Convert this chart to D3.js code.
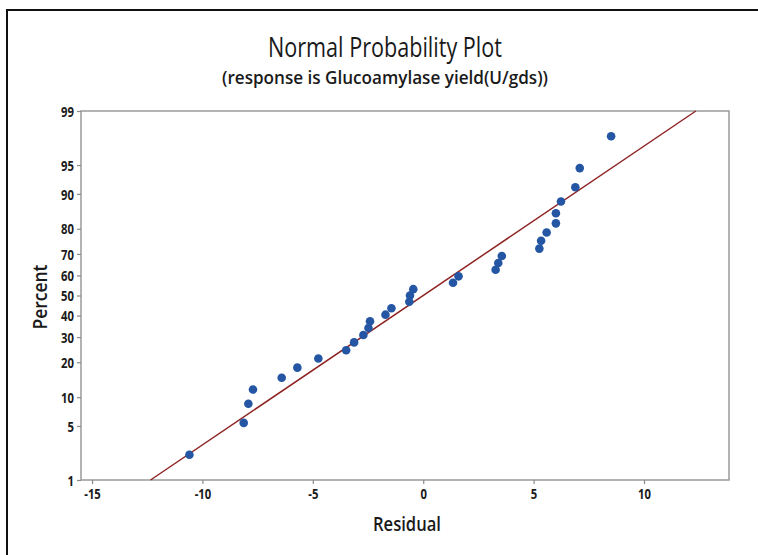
<!DOCTYPE html>
<html>
<head>
<meta charset="utf-8">
<script src="https://cdn.jsdelivr.net/npm/d3@7"></script>
<style>
  html, body { margin: 0; padding: 0; background: #fff; }
  svg { display: block; }
  text { font-family: "Open Sans", "Noto Sans", sans-serif; fill: #1a1a1a; }
</style>
</head>
<body>
<svg id="chart" width="758" height="555"></svg>
<script>
// ---------- data ----------
const titleText = "Normal Probability Plot";
const subtitleText = "(response is Glucoamylase yield(U/gds))";
const xLabel = "Residual";
const yLabel = "Percent";

const residuals = [-10.59, -8.13, -7.92, -7.71, -6.41, -5.70, -4.75, -3.49, -3.13, -2.71,
                   -2.48, -2.41, -1.71, -1.44, -0.63, -0.60, -0.45, 1.35, 1.60, 3.28,
                   3.40, 3.56, 5.26, 5.34, 5.59, 6.01, 6.01, 6.24, 6.89, 7.09, 8.51];
const percents = [2.23, 5.41, 8.60, 11.78, 14.97, 18.15, 21.34, 24.52, 27.71, 30.89,
                  34.08, 37.26, 40.45, 43.63, 46.82, 50.00, 53.18, 56.37, 59.55, 62.74,
                  65.92, 69.11, 72.29, 75.48, 78.66, 81.85, 85.03, 88.22, 91.40, 94.59, 97.77];

const fitResidual = [-12.35, 12.35];
const fitPercent = [1, 99];

const xTicks = [-15, -10, -5, 0, 5, 10];
const yTicks = [1, 5, 10, 20, 30, 40, 50, 60, 70, 80, 90, 95, 99];

// ---------- helpers ----------
// inverse standard normal CDF (Acklam)
function probit(p) {
  const a = [-3.969683028665376e+01, 2.209460984245205e+02, -2.759285104469687e+02,
             1.383577518672690e+02, -3.066479806614716e+01, 2.506628277459239e+00];
  const b = [-5.447609879822406e+01, 1.615858368580409e+02, -1.556989798598866e+02,
             6.680131188771972e+01, -1.328068155288572e+01];
  const c = [-7.784894002430293e-03, -3.223964580411365e-01, -2.400758277161838e+00,
             -2.549732539343734e+00, 4.374664141464968e+00, 2.938163982698783e+00];
  const d = [7.784695709041462e-03, 3.224671290700398e-01, 2.445134137142996e+00,
             3.754408661907416e+00];
  const pl = 0.02425, ph = 1 - pl;
  let q, r;
  if (p < pl) {
    q = Math.sqrt(-2 * Math.log(p));
    return (((((c[0]*q+c[1])*q+c[2])*q+c[3])*q+c[4])*q+c[5]) /
           ((((d[0]*q+d[1])*q+d[2])*q+d[3])*q+1);
  } else if (p <= ph) {
    q = p - 0.5; r = q*q;
    return (((((a[0]*r+a[1])*r+a[2])*r+a[3])*r+a[4])*r+a[5])*q /
           (((((b[0]*r+b[1])*r+b[2])*r+b[3])*r+b[4])*r+1);
  } else {
    q = Math.sqrt(-2 * Math.log(1 - p));
    return -(((((c[0]*q+c[1])*q+c[2])*q+c[3])*q+c[4])*q+c[5]) /
            ((((d[0]*q+d[1])*q+d[2])*q+d[3])*q+1);
  }
}

// ---------- layout ----------
const svg = d3.select("#chart");
const plot = { left: 81, right: 729, top: 111, bottom: 480 };

const x = d3.scaleLinear().domain([-15.5, 13.85]).range([plot.left, plot.right]);
const zScale = d3.scaleLinear().domain([probit(0.01), probit(0.99)]).range([plot.bottom, plot.top]);
const y = p => zScale(probit(p / 100));

// outer border (top & left visible)
svg.append("path")
  .attr("d", `M7,555 L7,10 L758,10`)
  .attr("fill", "none").attr("stroke", "#111").attr("stroke-width", 2);

// titles
svg.append("text").attr("x", 385).attr("y", 57).attr("text-anchor", "middle")
  .attr("font-size", 27).attr("textLength", 234).attr("lengthAdjust", "spacingAndGlyphs")
  .text(titleText);
svg.append("text").attr("x", 385).attr("y", 84).attr("text-anchor", "middle")
  .attr("font-size", 18).attr("font-weight", 600)
  .attr("textLength", 326).attr("lengthAdjust", "spacingAndGlyphs")
  .text(subtitleText);

// frame
svg.append("rect")
  .attr("x", plot.left).attr("y", plot.top)
  .attr("width", plot.right - plot.left).attr("height", plot.bottom - plot.top)
  .attr("fill", "none").attr("stroke", "#9a9a9a").attr("stroke-width", 1.5);

// axes
const xAxis = svg.append("g").attr("transform", `translate(0,${plot.bottom})`)
  .call(d3.axisBottom(x).tickValues(xTicks).tickSizeOuter(0).tickSize(4).tickPadding(4)
        .tickFormat(d => d3.format("d")(d).replace("−", "-")));
const yAxis = svg.append("g").attr("transform", `translate(${plot.left},0)`)
  .call(d3.axisLeft(zScale).tickValues(yTicks.map(p => probit(p / 100)))
        .tickSizeOuter(0).tickSize(4).tickPadding(3)
        .tickFormat((d, i) => yTicks[i]));
[xAxis, yAxis].forEach(g => {
  g.select(".domain").remove();
  g.selectAll(".tick line").attr("stroke", "#8a8a8a").attr("stroke-width", 1.2);
  g.selectAll(".tick text").attr("font-size", 14.5).attr("font-weight", 700)
    .attr("font-family", "'Open Sans', sans-serif").attr("fill", "#1a1a1a");
});
// condensed look for tick labels
xAxis.selectAll(".tick text").attr("dy", "0.85em").attr("y", 7)
  .attr("transform", "scale(0.78,1)");
yAxis.selectAll(".tick text").attr("x", -9).attr("dy", "0.36em")
  .attr("transform", "scale(0.78,1)");

// axis labels
svg.append("text").attr("x", 407).attr("y", 531).attr("text-anchor", "middle")
  .attr("font-size", 19).attr("font-weight", 600)
  .attr("textLength", 68).attr("lengthAdjust", "spacingAndGlyphs").text(xLabel);
svg.append("text").attr("transform", "translate(47,297) rotate(-90)")
  .attr("text-anchor", "middle")
  .attr("font-size", 19).attr("font-weight", 600)
  .attr("textLength", 65).attr("lengthAdjust", "spacingAndGlyphs").text(yLabel);

// fit line
const fitData = fitResidual.map((r, i) => [r, fitPercent[i]]);
svg.append("path")
  .datum(fitData)
  .attr("d", d3.line().x(d => x(d[0])).y(d => y(d[1])))
  .attr("fill", "none").attr("stroke", "#8e2424").attr("stroke-width", 1.5);

// points
const pts = residuals.map((r, i) => ({ r, p: percents[i] }));
svg.append("g").selectAll("circle").data(pts).join("circle")
  .attr("cx", d => x(d.r)).attr("cy", d => y(d.p)).attr("r", 4.3)
  .attr("fill", "#2456a4");
</script>
</body>
</html>
